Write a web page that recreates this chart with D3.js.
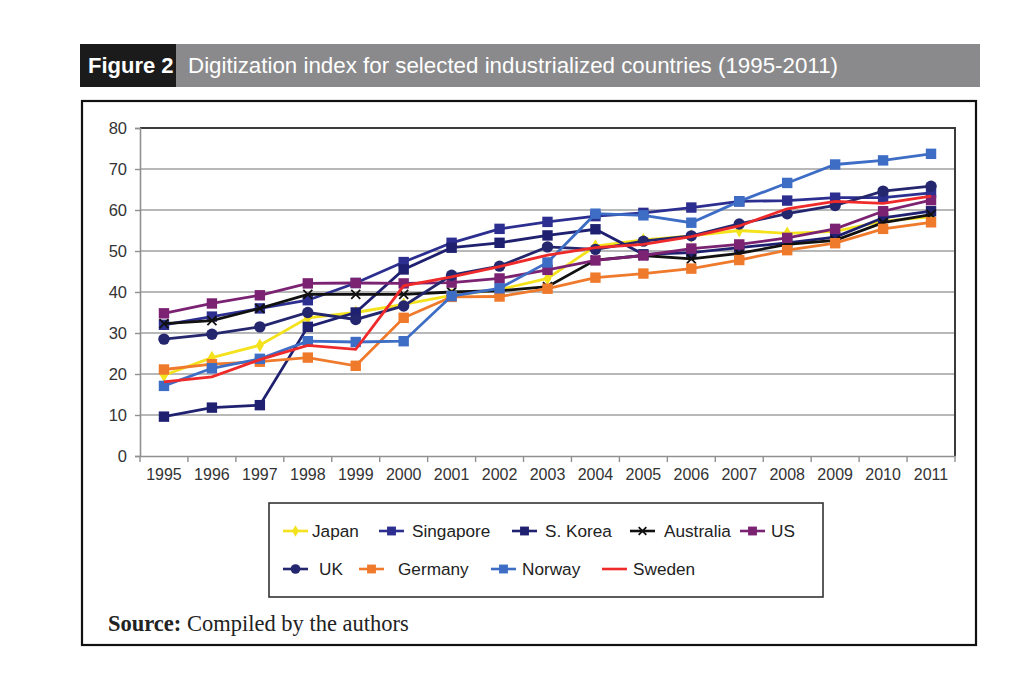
<!DOCTYPE html>
<html><head><meta charset="utf-8">
<script src="https://cdn.jsdelivr.net/npm/d3@7"></script>
<style>
html,body{margin:0;padding:0;background:#fff;}
svg{display:block;}
</style></head>
<body>
<svg id="c" width="1024" height="675"></svg>
<script>
const years = ["1995","1996","1997","1998","1999","2000","2001","2002","2003","2004","2005","2006","2007","2008","2009","2010","2011"];
const yTicks = [0,10,20,30,40,50,60,70,80];
const japan     = [19.7,24.0,27.0,33.7,35.0,37.0,39.2,40.6,43.3,51.2,52.7,53.7,55.0,54.3,54.8,57.3,58.3];
const singapore = [32.0,34.0,36.0,38.0,42.2,47.3,52.0,55.4,57.1,58.5,59.3,60.6,62.1,62.3,63.0,63.0,64.2];
const sKorea    = [9.6,11.8,12.4,31.5,35.0,45.5,50.8,52.0,53.8,55.3,49.2,49.6,50.8,52.0,53.4,58.1,59.7];
const australia = [32.3,33.0,36.0,39.4,39.4,39.4,40.0,40.3,41.3,47.8,48.9,48.1,49.4,51.6,52.6,56.9,58.9];
const us        = [34.8,37.2,39.2,42.1,42.2,42.1,42.3,43.3,45.4,47.7,48.9,50.6,51.6,53.2,55.4,59.7,62.4];
const uk        = [28.5,29.7,31.5,35.0,33.3,36.6,44.1,46.3,51.0,50.4,52.4,53.7,56.6,59.1,61.1,64.6,65.8];
const germany   = [21.1,22.4,23.0,24.0,22.0,33.7,38.8,38.9,40.8,43.5,44.5,45.7,47.8,50.2,51.9,55.4,57.0];
const norway    = [17.1,21.4,23.7,28.0,27.8,28.0,39.0,40.9,47.2,59.1,58.7,56.9,62.1,66.6,71.1,72.1,73.7];
const sweden    = [18.1,19.3,23.5,27.0,26.0,41.5,43.7,46.2,49.0,50.8,51.6,53.5,56.1,60.3,62.1,61.6,63.4];

const seriesNames = ["Japan","Singapore","S. Korea","Australia","US","UK","Germany","Norway","Sweden"];
const seriesValues = [japan,singapore,sKorea,australia,us,uk,germany,norway,sweden];
const seriesColors = ["#f4e21c","#2c2f8f","#1f2170","#111111","#7b2372","#24266e","#ef7a2c","#3d6dc5","#ee2a2a"];
const seriesMarkers = ["diamond","square","square","x","square","circle","square","square","none"];

const svg = d3.select("#c");

// Title bar
svg.append("rect").attr("x",80).attr("y",44).attr("width",900).attr("height",43).attr("fill","#8a8a8c");
svg.append("rect").attr("x",80).attr("y",44).attr("width",96).attr("height",43).attr("fill","#1b1b1b");
svg.append("text").attr("x",88).attr("y",73).attr("fill","#fff")
  .attr("font-family","Liberation Sans Narrow, Arial Narrow, Liberation Sans, Arial").attr("font-weight","bold").attr("font-size",22)
  .text("Figure 2");
svg.append("text").attr("x",188).attr("y",73).attr("fill","#fff")
  .attr("font-family","Liberation Sans Narrow, Arial Narrow, Liberation Sans, Arial").attr("font-size",22.5)
  .attr("textLength",650).attr("lengthAdjust","spacingAndGlyphs")
  .text("Digitization index for selected industrialized countries (1995-2011)");

// Outer frame
svg.append("rect").attr("x",82).attr("y",101).attr("width",894).attr("height",544)
  .attr("fill","#fff").attr("stroke","#111").attr("stroke-width",2.2);

const L=140,R=955,T=128,B=456;
const x = d3.scaleBand().domain(years).range([L,R]);
const y = d3.scaleLinear().domain([0,80]).range([B,T]);
const cx = d => x(d)+x.bandwidth()/2;

// gridlines
svg.append("g").selectAll("line").data(yTicks.filter(v=>v>0&&v<80)).join("line")
  .attr("x1",L).attr("x2",R).attr("y1",d=>y(d)).attr("y2",d=>y(d))
  .attr("stroke","#a0a0a0").attr("stroke-width",1.6);
// plot border top/right
svg.append("path").attr("d",`M${L},${y(80)}H${R}V${B}`).attr("fill","none").attr("stroke","#3a3a3a").attr("stroke-width",2);

// axes
const yAxis = d3.axisLeft(y).tickValues(yTicks).tickSize(5).tickPadding(8);
const gy = svg.append("g").attr("transform",`translate(${L},0)`).call(yAxis);
gy.select(".domain").attr("stroke","#909090").attr("stroke-width",1.6);
gy.selectAll(".tick line").attr("stroke","#909090").attr("stroke-width",1.4);
gy.selectAll("text").attr("font-family","Liberation Sans, Arial").attr("font-size",16.5).attr("fill","#333");

const xAxis = d3.axisBottom(x).tickSize(0).tickPadding(13);
const gx = svg.append("g").attr("transform",`translate(0,${B})`).call(xAxis);
gx.select(".domain").attr("stroke","#909090").attr("stroke-width",1.6);
gx.selectAll("text").attr("font-family","Liberation Sans, Arial").attr("font-size",16).attr("fill","#333");
// category boundary ticks
svg.append("g").selectAll("line").data(years.concat(["end"])).join("line")
  .attr("x1",(d,i)=>L+i*x.step()).attr("x2",(d,i)=>L+i*x.step())
  .attr("y1",B).attr("y2",B+6).attr("stroke","#909090").attr("stroke-width",1.4);

function drawMarker(g, type, color, px, py, scale){
  const s = scale||1;
  if(type==="square"){
    g.append("rect").attr("x",px-5.2*s).attr("y",py-5.2*s).attr("width",10.4*s).attr("height",10.4*s).attr("fill",color);
  } else if(type==="circle"){
    g.append("circle").attr("cx",px).attr("cy",py).attr("r",5.7*s).attr("fill",color);
  } else if(type==="diamond"){
    g.append("path").attr("d",d3.symbol(d3.symbolDiamond,55*s*s)()).attr("transform",`translate(${px},${py})`).attr("fill",color);
  } else if(type==="x"){
    g.append("path").attr("d",`M${px-4.5*s},${py-4.5*s}L${px+4.5*s},${py+4.5*s}M${px-4.5*s},${py+4.5*s}L${px+4.5*s},${py-4.5*s}`)
      .attr("stroke",color).attr("stroke-width",1.8);
  }
}

const line = d3.line().x((d,i)=>cx(years[i])).y(d=>y(d));
const plot = svg.append("g");
seriesValues.forEach((vals,k)=>{
  const g = plot.append("g");
  g.append("path").attr("d",line(vals)).attr("fill","none").attr("stroke",seriesColors[k]).attr("stroke-width",2.8);
  vals.forEach((v,i)=>drawMarker(g,seriesMarkers[k],seriesColors[k],cx(years[i]),y(v)));
});

// Legend
svg.append("rect").attr("x",269).attr("y",503).attr("width",554).attr("height",94)
  .attr("fill","#fff").attr("stroke","#333").attr("stroke-width",1.6);
const legPos = [
  {lx:283,tx:312,ty:531},{lx:379,tx:412,ty:531},{lx:512,tx:545,ty:531},{lx:630,tx:664,ty:531},{lx:740,tx:771,ty:531},
  {lx:283,tx:319,ty:569},{lx:359,tx:398,ty:569},{lx:491,tx:522,ty:569},{lx:602,tx:633,ty:569}
];
seriesNames.forEach((n,k)=>{
  const p = legPos[k];
  const g = svg.append("g");
  g.append("line").attr("x1",p.lx).attr("x2",p.lx+25).attr("y1",p.ty).attr("y2",p.ty)
    .attr("stroke",seriesColors[k]).attr("stroke-width",2.6);
  drawMarker(g,seriesMarkers[k],seriesColors[k],p.lx+12.5,p.ty,0.85);
  g.append("text").attr("x",p.tx).attr("y",p.ty+6).attr("font-family","Liberation Sans, Arial").attr("font-size",17.2)
    .attr("fill","#222").text(n);
});

// Source
const src = svg.append("text").attr("x",108).attr("y",631).attr("font-family","Liberation Serif, Times New Roman, serif")
  .attr("font-size",22.5).attr("fill","#222");
src.append("tspan").attr("font-weight","bold").text("Source:");
src.append("tspan").text(" Compiled by the authors");
</script>
</body></html>
